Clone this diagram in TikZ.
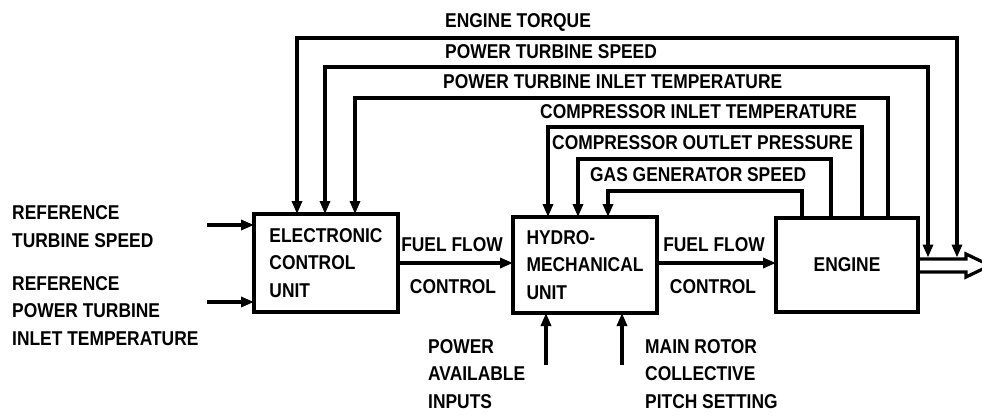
\documentclass[tikz,border=0pt]{standalone}
\usepackage{fontspec}
\setmainfont{Liberation Sans}[FakeStretch=0.87]
\usetikzlibrary{arrows.meta,calc}
\newcommand\lbfont{\fontsize{20}{27.5}\selectfont\bfseries}
\tikzset{
  ln/.style={line width=3.2pt, line join=miter},
  tip/.tip={Triangle[length=13pt,width=10pt]},
  arr/.style={ln, -tip},
  arrb/.style={ln, tip-tip},
  blk/.style={draw, line width=3.2pt, outer sep=0pt, inner sep=0pt, align=left, font=\lbfont},
  lbl/.style={font=\lbfont, inner sep=0pt, align=left},
}
\begin{document}
\begin{tikzpicture}[x=1pt,y=-1pt]
\useasboundingbox (0,0) rectangle (982,415);
% blocks
\node[blk, minimum width=144pt, minimum height=98pt] (ecu) at (326,263) {ELECTRONIC\\CONTROL\\UNIT};
\node[blk, minimum width=144pt, minimum height=96pt] (hmu) at (585,265) {HYDRO-\\MECHANICAL\\UNIT};
\node[blk, minimum width=142pt, minimum height=94pt, align=center] (eng) at (847,265) {ENGINE};
% left inputs
\node[lbl, anchor=west] (ref1) at (12,226.5) {REFERENCE\\TURBINE SPEED};
\node[lbl, anchor=west] (ref2) at (12,311) {REFERENCE\\POWER TURBINE\\INLET TEMPERATURE};
\coordinate (in1) at (207,225);
\coordinate (in2) at (207,302);
\draw[arr] (in1) -- (in1 -| ecu.west);
\draw[arr] (in2) -- (in2 -| ecu.west);
% fuel flow
\draw[arr] (ecu.east) -- (hmu.west |- ecu.east);
\draw[arr] (hmu.east |- ecu.east) -- (eng.west |- ecu.east);
\node[lbl] (ff1) at (452,245) {FUEL FLOW};
\node[lbl] (fc1) at (453,287) {CONTROL};
\node[lbl] (ff2) at (714,245) {FUEL FLOW};
\node[lbl] (fc2) at (713,287) {CONTROL};
% bottom inputs
\coordinate (b1) at (546,365);
\coordinate (b2) at (622,365);
\draw[arr] (b1) -- (b1 |- hmu.south);
\draw[arr] (b2) -- (b2 |- hmu.south);
\node[lbl, anchor=west] (pai) at (428,374) {POWER\\AVAILABLE\\INPUTS};
\node[lbl, anchor=west] (mrc) at (645,374) {MAIN ROTOR\\COLLECTIVE\\PITCH SETTING};
% output arrow
\draw[ln] (eng.east |- 0,259) -- (966,259) -- (966,254) -- (990,265.5) -- (966,277) -- (966,272) -- (eng.east |- 0,272);
\coordinate (o1) at (928,257.5);
\coordinate (o2) at (957,257.5);
% feedback loops
\draw[arrb] ([xshift=43pt]ecu.north west) |- (957,38) -- (o2);
\draw[arrb] ([xshift=71pt]ecu.north west) |- (928,67) -- (o1);
\draw[arr] ([xshift=112pt]eng.north west) |- (355,98) -- ([xshift=101pt]ecu.north west);
\draw[arr] ([xshift=86pt]eng.north west) |- (548,127) -- ([xshift=35pt]hmu.north west);
\draw[arr] ([xshift=55pt]eng.north west) |- (578,159) -- ([xshift=65pt]hmu.north west);
\draw[arr] ([xshift=26pt]eng.north west) |- (608,191) -- ([xshift=95pt]hmu.north west);
% feedback labels
\node[lbl, anchor=west] (tq) at (445,22) {ENGINE TORQUE};
\node[lbl, anchor=west] (pts) at (445,52) {POWER TURBINE SPEED};
\node[lbl, anchor=west] (ptit) at (443,82) {POWER TURBINE INLET TEMPERATURE};
\node[lbl, anchor=west] (cit) at (540,112) {COMPRESSOR INLET TEMPERATURE};
\node[lbl, anchor=west] (cop) at (552,143) {COMPRESSOR OUTLET PRESSURE};
\node[lbl, anchor=west] (ggs) at (590,175) {GAS GENERATOR SPEED};
\end{tikzpicture}
\end{document}
